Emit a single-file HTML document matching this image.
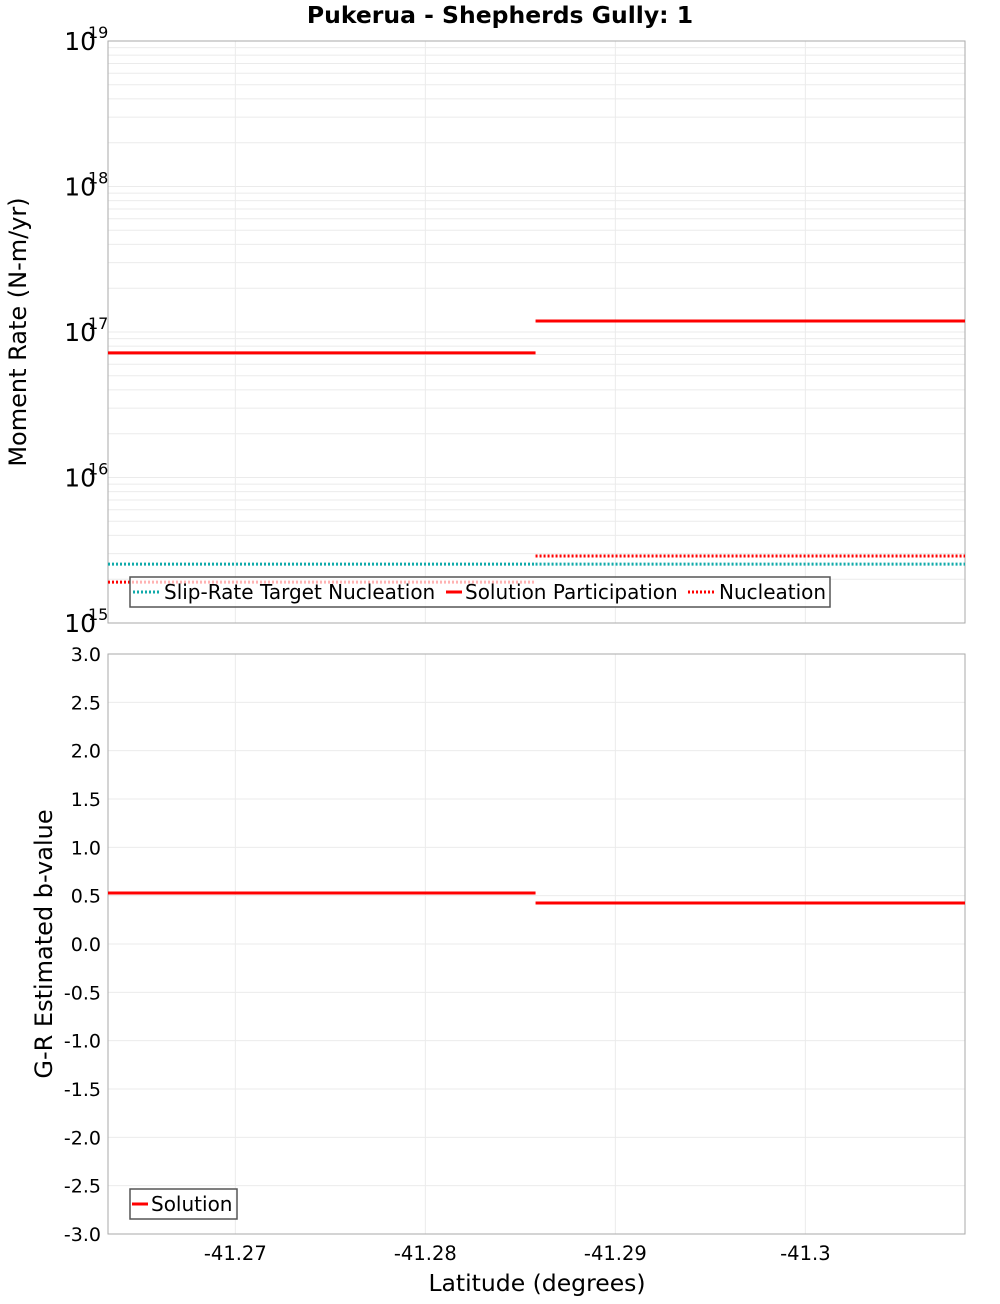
<!DOCTYPE html>
<html><head><meta charset="utf-8"><style>
body{margin:0;background:#fff;font-family:"DejaVu Sans","Liberation Sans",sans-serif}
svg text{font-family:"DejaVu Sans","Liberation Sans",sans-serif}
</style></head><body>
<svg id="c" width="1000" height="1300" xmlns="http://www.w3.org/2000/svg"></svg>
<script>
// data
const segStart = [-41.2633, -41.2858];
const segEnd = [-41.2858, -41.3084];
const participation = [7.18e16, 1.19e17];
const nucleation = [1.91e15, 2.89e15];
const targetNucleation = [2.54e15, 2.54e15];
const bValues = [0.528, 0.424];
const xTicks = [-41.27, -41.28, -41.29, -41.3];
const xTickLabels = ["-41.27", "-41.28", "-41.29", "-41.3"];
const yDecades = [15, 16, 17, 18, 19];
const bTicks = [3.0,2.5,2.0,1.5,1.0,0.5,0.0,-0.5,-1.0,-1.5,-2.0,-2.5,-3.0];

const svg = document.getElementById('c');
const NS = 'http://www.w3.org/2000/svg';
function mk(tag, attrs, parent){const e=document.createElementNS(NS,tag);for(const k in attrs)e.setAttribute(k,attrs[k]);(parent||svg).appendChild(e);return e;}
const L=108,R=965,T1=41,B1=623,T2=654,B2=1234;
const xMin=-41.2633,xMax=-41.3084;
const xs=v=>L+(v-xMin)/(xMax-xMin)*(R-L);
const y1=v=>B1-(Math.log10(v)-15)/4*(B1-T1);
const y2=v=>B2-(v+3)/6*(B2-T2);

let t=mk('text',{x:500,y:23,'text-anchor':'middle','font-size':23.5,'font-weight':'bold'});
t.textContent='Pukerua - Shepherds Gully: 1';



for(let d=15; d<19; d++){
  for(let m=1;m<10;m++){
    const y=y1(m*Math.pow(10,d));
    const g=mk('line',{x1:L,x2:R,y1:y,y2:y,stroke:'#ebebeb','stroke-width':1});
    
    
  }
}
xTicks.forEach(v=>{
  [[T1,B1],[T2,B2]].forEach(([a,b])=>{
    const g=mk('line',{x1:xs(v),x2:xs(v),y1:a,y2:b,stroke:'#ebebeb'});
    
    
  });
});
bTicks.forEach(v=>{
  const g=mk('line',{x1:L,x2:R,y1:y2(v),y2:y2(v),stroke:'#ebebeb'});
  
  
  const tx=mk('text',{x:101,y:y2(v)+7,'text-anchor':'end','font-size':19});
  tx.textContent=v.toFixed(1);
  
  
});
let p=mk('rect',{x:L,y:T1,width:R-L,height:B1-T1,fill:'none',stroke:'#aaa'});

p=mk('rect',{x:L,y:T2,width:R-L,height:B2-T2,fill:'none',stroke:'#aaa'});


yDecades.forEach(d=>{
  const tx=mk('text',{x:96,y:y1(Math.pow(10,d))+9,'text-anchor':'end','font-size':25});
  tx.textContent='10';
  
  
  const s=mk('text',{x:88,y:y1(Math.pow(10,d))-3,'font-size':16});
  s.textContent=String(d);
  
  
});
xTicks.forEach((v,i)=>{
  const tx=mk('text',{x:xs(v),y:1260,'text-anchor':'middle','font-size':19.5});
  tx.textContent=xTickLabels[i];
  
  
});
t=mk('text',{x:537,y:1291,'text-anchor':'middle','font-size':23.5});
t.textContent='Latitude (degrees)';

t=mk('text',{x:0,y:0,'text-anchor':'middle','font-size':24,transform:'translate(26,332) rotate(-90)'});
t.textContent='Moment Rate (N-m/yr)';

t=mk('text',{x:0,y:0,'text-anchor':'middle','font-size':24,transform:'translate(52,944) rotate(-90)'});
t.textContent='G-R Estimated b-value';


function seg(arr,scale,color,dash,name){
  arr.forEach((v,i)=>{
    const a={x1:xs(segStart[i]),x2:xs(segEnd[i]),y1:scale(v),y2:scale(v),stroke:color,'stroke-width':3};
    if(dash)a['stroke-dasharray']=dash;
    const l=mk('line',a);
    
    
  });
}
seg(targetNucleation,y1,'#11aaaa','2 2','target-nucleation-line');
seg(nucleation,y1,'#ff0000','2 2','nucleation-line');
seg(participation,y1,'#ff0000',null,'participation-line');
seg(bValues,y2,'#ff0000',null,'b-value-line');

function legend(x,y,w,items,name){
  const g=mk('g',{});
  
  mk('rect',{x:x,y:y,width:w,height:30,fill:'rgba(255,255,255,0.7)',stroke:'#555','stroke-width':1.5},g);
  items.forEach(it=>{
    const a={x1:it.x,x2:it.x+it.w,y1:y+15,y2:y+15,stroke:it.c,'stroke-width':3};
    if(it.d)a['stroke-dasharray']='2 2';
    const l=mk('line',a,g);
    
    const tx=mk('text',{x:it.tx,y:y+22,'font-size':20},g);
    tx.textContent=it.t;
    
  });
}
legend(130,577,700,[{x:133,w:27,tx:164,c:'#11aaaa',d:1,t:'Slip-Rate Target Nucleation'},{x:446,w:16,tx:465,c:'#ff0000',d:0,t:'Solution Participation'},{x:688,w:27,tx:719,c:'#ff0000',d:1,t:'Nucleation'}],'moment-legend');
legend(130,1189,107,[{x:132,w:16,tx:151,c:'#ff0000',d:0,t:'Solution'}],'bvalue-legend');
</script>
</body></html>
